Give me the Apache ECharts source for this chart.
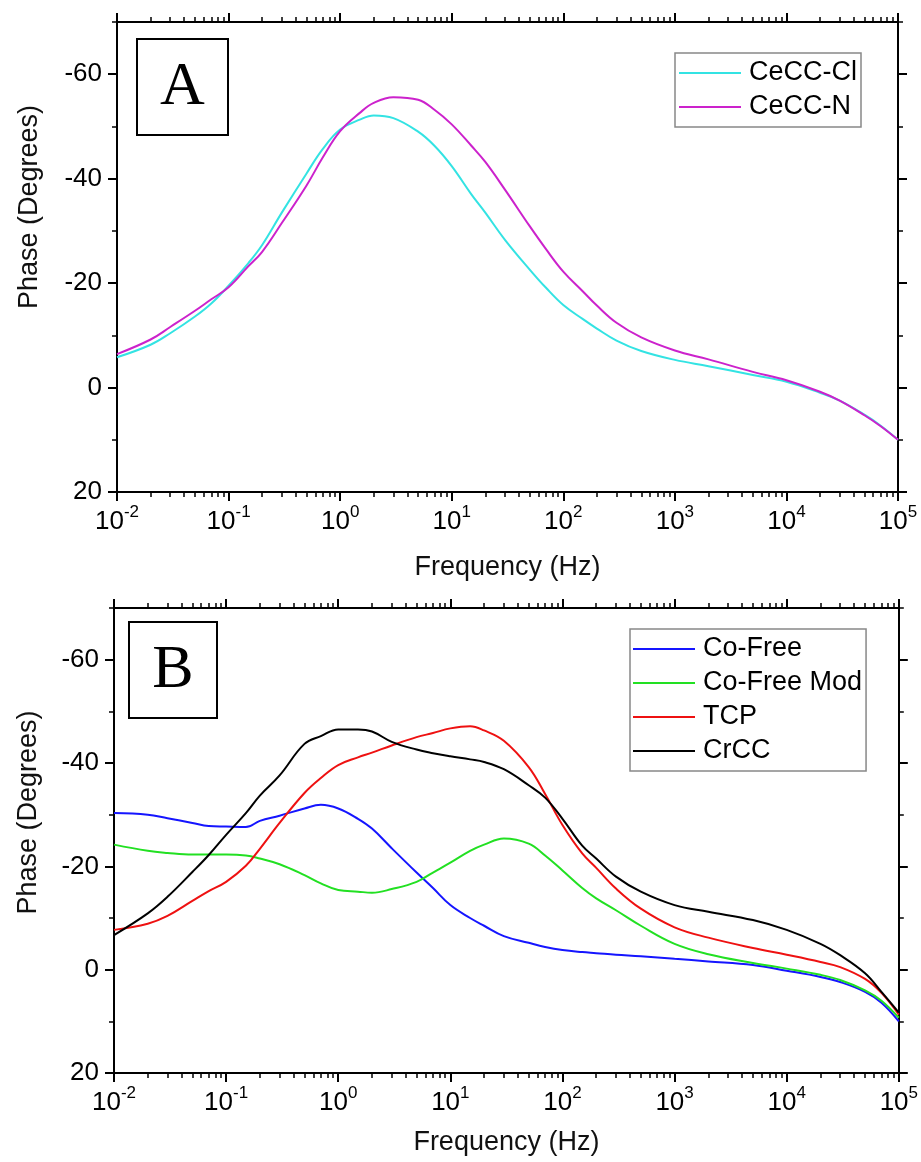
<!DOCTYPE html>
<html><head><meta charset="utf-8">
<script src="https://cdn.jsdelivr.net/npm/echarts@6/dist/echarts.min.js"></script>
<style>html,body{margin:0;padding:0;background:#fff}#c{width:921px;height:1162px}</style>
</head><body><div id="c"></div>
<script>
// Frequencies (Hz) shared by all curves
const freq = [0.01,0.02,0.03,0.05,0.07,0.1,0.15,0.2,0.3,0.5,0.7,1,1.5,2,3,5,7,10,15,20,30,50,70,100,150,200,300,500,1000,2000,5000,1e4,2e4,3e4,5e4,7e4,1e5];
// Panel A
const ceccCl = [-5.8,-8.2,-10.4,-13.6,-16.1,-19.5,-23.8,-27.3,-33.5,-41,-45.7,-49.4,-51.3,-52.1,-51.6,-49.0,-46.3,-42.4,-37.0,-33.5,-28.3,-22.6,-19.1,-15.8,-13.1,-11.3,-9.0,-7.0,-5.3,-4.1,-2.4,-1.1,1.0,2.5,5.2,7.3,10];
const ceccN  = [-6.4,-9.2,-11.6,-14.7,-16.9,-19.2,-23.2,-26,-31.5,-38.7,-44.1,-49.1,-52.6,-54.5,-55.6,-55.1,-53.2,-50.4,-46.3,-43.2,-37.9,-30.9,-26.5,-22.2,-18.4,-15.7,-12.4,-9.6,-7.1,-5.4,-3.0,-1.4,0.8,2.5,5.3,7.4,10];
// Panel B
const coFree    = [-30.3,-30.0,-29.3,-28.4,-27.8,-27.7,-27.6,-28.8,-29.8,-31.2,-31.9,-31.2,-29.2,-27.3,-23.5,-18.8,-15.8,-12.5,-10.0,-8.5,-6.5,-5.2,-4.4,-3.8,-3.4,-3.2,-2.9,-2.6,-2.1,-1.6,-0.9,0.2,1.4,2.4,4.3,6.4,10];
const coFreeMod = [-24.2,-23.0,-22.6,-22.3,-22.3,-22.3,-22.1,-21.5,-20.4,-18.3,-16.7,-15.4,-15.1,-14.9,-15.6,-17.0,-18.8,-20.7,-23.0,-24.2,-25.4,-24.4,-22.1,-19.2,-15.8,-13.8,-11.5,-8.5,-5,-3,-1.3,-0.2,1.0,2.0,4.0,6.0,9.3];
const tcp       = [-7.7,-8.9,-10.4,-13.3,-15.2,-17.0,-20.1,-23.4,-28.4,-34.2,-37.1,-39.6,-41.1,-42.0,-43.4,-45.0,-45.8,-46.7,-47.1,-46.3,-44.3,-39.2,-34.0,-28.0,-22.5,-19.7,-15.7,-11.8,-8.2,-6.2,-4.2,-2.9,-1.5,-0.5,1.8,4.5,8.7];
const crcc      = [-6.7,-10.9,-14.1,-18.9,-22.2,-26.1,-30.3,-33.7,-37.6,-43.7,-45.2,-46.5,-46.5,-46.1,-44.1,-42.6,-41.9,-41.3,-40.7,-40.2,-38.8,-35.7,-33.3,-29.2,-24.0,-21.5,-18.0,-15.1,-12.5,-11.2,-9.6,-7.7,-5.0,-2.8,0.7,4.3,8.3];
// Tick values
const yMajorTicks = [-60,-40,-20,0,20];
const yMinorTicks = [-70,-50,-30,-10,10];
const xMinorLog = [];
for (let n = -2; n < 5; n++) for (let k = 2; k <= 9; k++) xMinorLog.push(n + Math.log10(k));

const FONT = 'Liberation Sans';
const BLACK = '#000';
function pairs(ys){ return freq.map((f,i)=>[f, ys[i]]); }

function xAxes(gi){
  const line = {show:true, onZero:false, lineStyle:{color:BLACK, width:2}};
  return [
    {gridIndex:gi, type:'log', logBase:10, min:0.01, max:1e5, position:'bottom',
     axisLine:line, splitLine:{show:false},
     axisTick:{show:true, inside:false, length:9, lineStyle:{color:BLACK, width:2}},
     axisLabel:{show:true, margin:12, color:BLACK, fontSize:26, fontFamily:FONT,
       formatter:v=>'{b|10}{sup|'+Math.round(Math.log10(v))+'}',
       rich:{b:{fontSize:26, fontFamily:FONT, color:BLACK, padding:[5,0,0,0]},
             sup:{fontSize:17, fontFamily:FONT, color:BLACK, verticalAlign:'top'}}},
     name:'Frequency (Hz)', nameLocation:'middle', nameGap: gi===0?62:56,
     nameTextStyle:{fontSize:27, color:'#111', fontFamily:FONT}},
    {gridIndex:gi, type:'value', min:-2, max:5, position:'bottom',
     axisLine:{show:false, onZero:false}, splitLine:{show:false}, axisLabel:{show:false},
     axisTick:{show:true, inside:false, length:5, customValues:xMinorLog, lineStyle:{color:BLACK, width:1.5}}},
    {gridIndex:gi, type:'log', logBase:10, min:0.01, max:1e5, position:'top',
     axisLine:line, splitLine:{show:false}, axisLabel:{show:false},
     axisTick:{show:true, inside:false, length:9, lineStyle:{color:BLACK, width:2}}},
    {gridIndex:gi, type:'value', min:-2, max:5, position:'top',
     axisLine:{show:false, onZero:false}, splitLine:{show:false}, axisLabel:{show:false},
     axisTick:{show:true, inside:false, length:5, customValues:xMinorLog, lineStyle:{color:BLACK, width:1.5}}}
  ];
}
function yAxes(gi){
  const line = {show:true, onZero:false, lineStyle:{color:BLACK, width:2}};
  const base = {gridIndex:gi, type:'value', inverse:true, min:-70, max:20, splitLine:{show:false}};
  return [
    Object.assign({}, base, {position:'left', axisLine:line,
      axisTick:{show:true, inside:false, length:9, customValues:yMajorTicks, lineStyle:{color:BLACK, width:2}},
      axisLabel:{show:true, customValues:yMajorTicks, margin:15, color:BLACK, fontSize:26, fontFamily:FONT},
      name:'Phase (Degrees)', nameLocation:'middle', nameGap: gi===0?74:72, nameRotate:90,
      nameTextStyle:{fontSize:27, color:'#111', fontFamily:FONT, padding: gi===0?[0,0,0,100]:[0,0,0,56]}}),
    Object.assign({}, base, {position:'left', axisLine:{show:false, onZero:false}, axisLabel:{show:false},
      axisTick:{show:true, inside:false, length:5, customValues:yMinorTicks, lineStyle:{color:BLACK, width:1.5}}}),
    Object.assign({}, base, {position:'right', axisLine:line, axisLabel:{show:false},
      axisTick:{show:true, inside:false, length:9, customValues:yMajorTicks, lineStyle:{color:BLACK, width:2}}}),
    Object.assign({}, base, {position:'right', axisLine:{show:false, onZero:false}, axisLabel:{show:false},
      axisTick:{show:true, inside:false, length:5, customValues:yMinorTicks, lineStyle:{color:BLACK, width:1.5}}})
  ];
}
function ser(name, ys, color, gi){
  return {name, type:'line', data:pairs(ys), xAxisIndex:gi*4, yAxisIndex:gi*4,
    symbol:'none', showSymbol:false, smooth:0.4, lineStyle:{color, width:2}, itemStyle:{color}, z:3};
}
const legendBase = {orient:'vertical', icon:'rect', itemWidth:62, itemHeight:2, itemGap:4,
  textStyle:{fontSize:27, lineHeight:30, color:BLACK, fontFamily:FONT, padding:[0,0,0,3]},
  borderColor:'#888', borderWidth:1.5, backgroundColor:'#fff', selectedMode:false};

const option = {
  backgroundColor:'#fff',
  animation:false,
  grid:[{left:117, top:22, width:781, height:470}, {left:114, top:608, width:787, height:465}],
  xAxis: xAxes(0).concat(xAxes(1)),
  yAxis: yAxes(0).concat(yAxes(1)),
  legend:[
    Object.assign({}, legendBase, {left:675, top:53, padding:[5,4,5,4], data:['CeCC-Cl','CeCC-N']}),
    Object.assign({}, legendBase, {left:630, top:629, padding:[5,4,5,3], data:['Co-Free','Co-Free Mod','TCP','CrCC']})
  ],
  series:[
    ser('CeCC-Cl', ceccCl, '#33e3e3', 0),
    ser('CeCC-N', ceccN, '#cc22cc', 0),
    ser('Co-Free', coFree, '#1515ff', 1),
    ser('Co-Free Mod', coFreeMod, '#22e022', 1),
    ser('TCP', tcp, '#ee1111', 1),
    ser('CrCC', crcc, '#000000', 1)
  ],
  graphic:[
    {type:'rect', shape:{x:137, y:39, width:91, height:96}, style:{fill:'#fff', stroke:'#000', lineWidth:2}, z:10},
    {type:'text', x:182.5, y:88, style:{text:'A', font:'62px "Liberation Serif"', fill:'#000', align:'center', verticalAlign:'middle'}, z:11},
    {type:'rect', shape:{x:129, y:622, width:88, height:96}, style:{fill:'#fff', stroke:'#000', lineWidth:2}, z:10},
    {type:'text', x:173, y:671, style:{text:'B', font:'62px "Liberation Serif"', fill:'#000', align:'center', verticalAlign:'middle'}, z:11}
  ]
};
const chart = echarts.init(document.getElementById('c'), null, {renderer:'canvas'});
chart.setOption(option);
</script></body></html>
